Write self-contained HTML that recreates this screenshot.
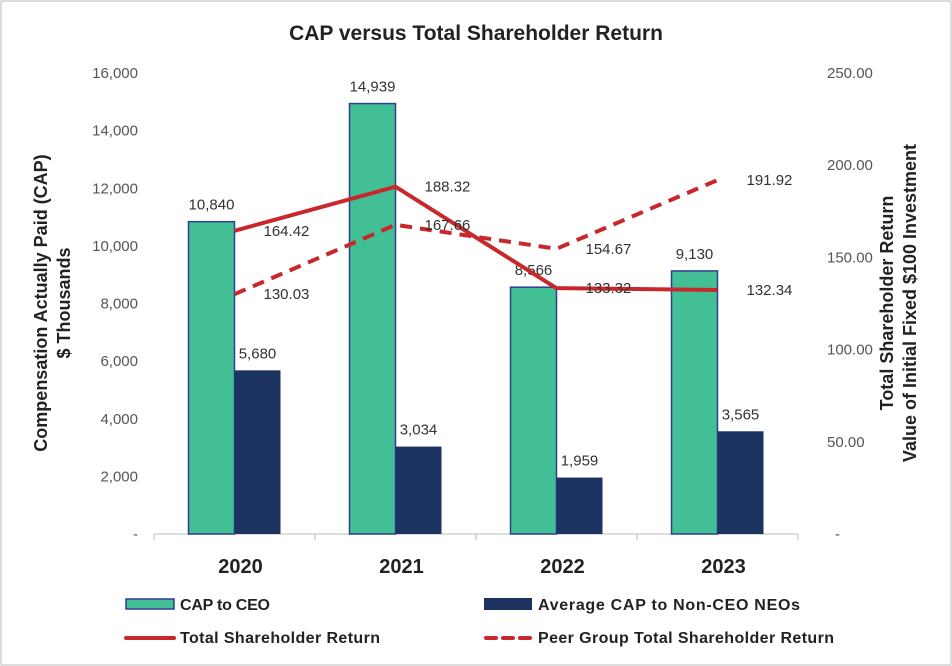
<!DOCTYPE html>
<html><head><meta charset="utf-8"><style>
body{margin:0;background:#fff;}
svg{display:block;font-family:"Liberation Sans",sans-serif;}
</style></head><body>
<svg id="c" width="952" height="666" viewBox="0 0 952 666">
<rect x="1" y="1" width="950" height="664" fill="#fff" stroke="#bbb"/>
<text x="476" y="40" text-anchor="middle" font-size="21" font-weight="bold" fill="#222">CAP versus Total Shareholder Return</text>
<g id="lt"></g>
<g id="rt"></g>
<line x1="154" y1="534" x2="798" y2="534" stroke="#bbb"/>
<g id="xt"></g>
<g id="bars"></g>
<g id="lines"></g>
<text transform="translate(47,303) rotate(-90)" text-anchor="middle" font-size="18" font-weight="bold" fill="#222"><tspan x="0" dy="0">Compensation Actually Paid (CAP)</tspan><tspan x="0" dy="23">$ Thousands</tspan></text>
<text transform="translate(893,303) rotate(-90)" text-anchor="middle" font-size="18" font-weight="bold" fill="#222"><tspan x="0" dy="0">Total Shareholder Return</tspan><tspan x="0" dy="23">Value of Initial Fixed $100 Investment</tspan></text>
<g font-size="16" font-weight="bold" fill="#222">
<g><rect x="126" y="599" width="48" height="10" fill="#43bf96" stroke="#2e3f8f" stroke-width="1.5"/><text x="180" y="610" textLength="90">CAP to CEO</text></g>
<g><rect x="484" y="598" width="48" height="12" fill="#1c3361"/><text x="538" y="610" textLength="262">Average CAP to Non-CEO NEOs</text></g>
<g><line x1="126" y1="638" x2="174" y2="638" stroke="#c8282c" stroke-width="4" stroke-linecap="round"/><text x="180" y="643" textLength="200">Total Shareholder Return</text></g>
<g><line x1="486" y1="638" x2="532" y2="638" stroke="#c8282c" stroke-width="4" stroke-dasharray="10,7" stroke-linecap="round"/><text x="538" y="643" textLength="296">Peer Group Total Shareholder Return</text></g>
</g>
</svg>
<script>
const years=["2020","2021","2022","2023"];
const capCeo=[10840,14939,8566,9130];
const capNeo=[5680,3034,1959,3565];
const tsr=[164.42,188.32,133.32,132.34];
const peer=[130.03,167.66,154.67,191.92];
const leftTicks=[0,2000,4000,6000,8000,10000,12000,14000,16000];
const rightTicks=[0,50,100,150,200,250];
const NS="http://www.w3.org/2000/svg";
const x0=154,bw=161,yb=534,yt=73;
const yL=v=>yb-(v/16000)*(yb-yt);
const yR=v=>yb-(v/250)*(yb-yt);
const xc=i=>x0+bw*(i+0.5);
function mk(t,a,p,txt){const e=document.createElementNS(NS,t);for(const k in a)e.setAttribute(k,a[k]);if(txt!==undefined)e.textContent=txt;p.appendChild(e);return e;}
const fmt=v=>v.toLocaleString('en-US');
const lt=document.getElementById('lt'),rt=document.getElementById('rt'),xt=document.getElementById('xt'),bars=document.getElementById('bars'),lines=document.getElementById('lines');
leftTicks.forEach(v=>{const e=mk('text',{x:138,y:yL(v)+5,'text-anchor':'end','font-size':15,fill:'#555'},lt,v===0?'-':fmt(v));

});
rightTicks.forEach(v=>{const e=mk('text',{x:v===0?835:827,y:yR(v)+5,'text-anchor':'start','font-size':15,fill:'#555'},rt,v===0?'-':v.toFixed(2));

});
for(let i=0;i<=years.length;i++){const e=mk('line',{x1:x0+bw*i,y1:yb,x2:x0+bw*i,y2:yb+6,stroke:'#bbb'},xt);

}
years.forEach((y,i)=>{const e=mk('text',{x:xc(i)+6,y:yb+39,'text-anchor':'middle','font-size':20,'font-weight':'bold',fill:'#222'},xt,y);

});
const W=46;
years.forEach((y,i)=>{
 const c=xc(i);
 const b1=mk('rect',{x:c-W,y:yL(capCeo[i]),width:W,height:yb-yL(capCeo[i]),fill:'#43bf96',stroke:'#2e3f8f','stroke-width':1.5},bars);
 
 
 const b2=mk('rect',{x:c,y:yL(capNeo[i]),width:W,height:yb-yL(capNeo[i]),fill:'#1c3361'},bars);
 
 
 const l1=mk('text',{x:c-W/2,y:yL(capCeo[i])-12,'text-anchor':'middle','font-size':15,fill:'#333'},bars,fmt(capCeo[i]));
 
 
 const l2=mk('text',{x:c+W/2,y:yL(capNeo[i])-12,'text-anchor':'middle','font-size':15,fill:'#333'},bars,fmt(capNeo[i]));
 
 
});
const pts=a=>a.map((v,i)=>xc(i)+','+yR(v)).join(' ');
const p1=mk('polyline',{points:pts(tsr),fill:'none',stroke:'#c8282c','stroke-width':4,'stroke-linejoin':'round'},lines);


const p2=mk('polyline',{points:pts(peer),fill:'none',stroke:'#c8282c','stroke-width':4,'stroke-dasharray':'12,8'},lines);


tsr.forEach((v,i)=>{const e=mk('text',{x:xc(i)+29,y:yR(v)+5,'font-size':15,fill:'#333'},lines,v.toFixed(2));

});
peer.forEach((v,i)=>{const e=mk('text',{x:xc(i)+29,y:yR(v)+5,'font-size':15,fill:'#333'},lines,v.toFixed(2));

});
</script>
</body></html>
